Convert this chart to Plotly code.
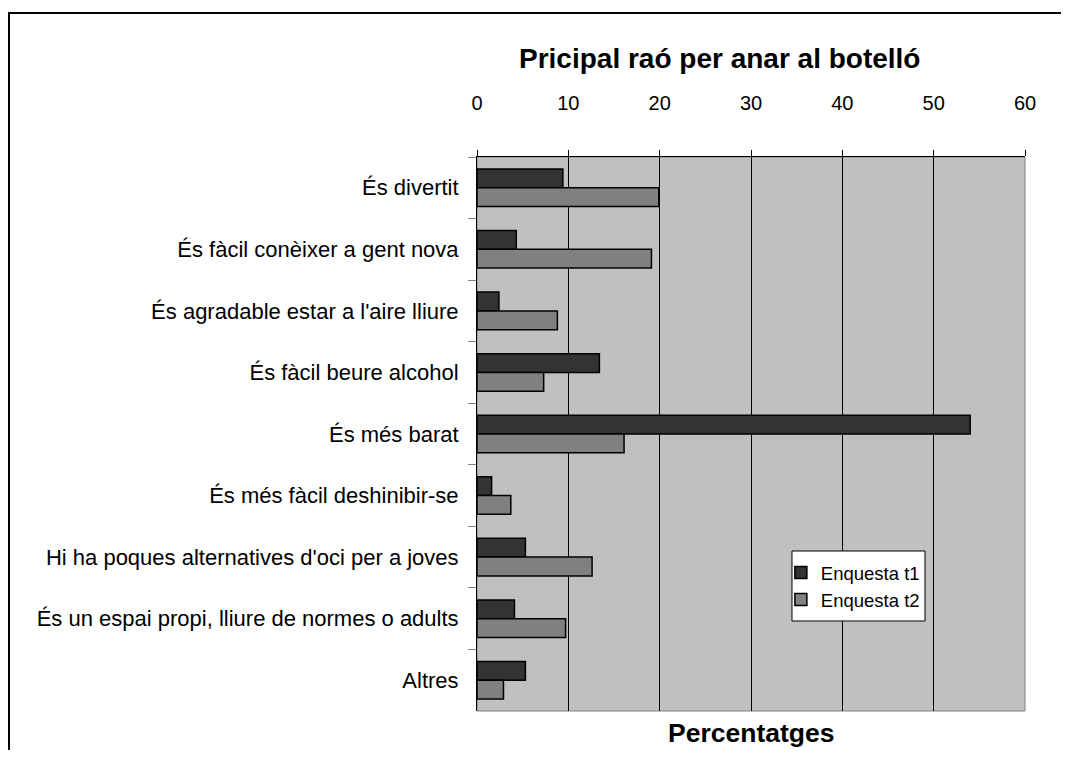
import plotly.graph_objects as go

# Data
categories = [
    "És divertit",
    "És fàcil conèixer a gent nova",
    "És agradable estar a l'aire lliure",
    "És fàcil beure alcohol",
    "És més barat",
    "És més fàcil deshinibir-se",
    "Hi ha poques alternatives d'oci per a joves",
    "És un espai propi, lliure de normes o adults",
    "Altres",
]
t1 = [9.4, 4.3, 2.4, 13.4, 54.0, 1.6, 5.3, 4.1, 5.3]
t2 = [19.9, 19.1, 8.8, 7.3, 16.1, 3.7, 12.6, 9.7, 2.9]
x_ticks = [0, 10, 20, 30, 40, 50, 60]

FONT = "Liberation Sans, Arial, sans-serif"

fig = go.Figure()
fig.add_trace(go.Bar(
    name="Enquesta t1", y=categories, x=t1, orientation="h", legendgroup="a",
    marker=dict(color="#333333", line=dict(color="black", width=1.5)),
))
fig.add_trace(go.Bar(
    name="Enquesta t2", y=categories, x=t2, orientation="h", legendgroup="b",
    marker=dict(color="#808080", line=dict(color="black", width=1.5)),
))

# page has an 8px body margin, so the figure is drawn 8px smaller / shifted
fig.update_layout(
    width=1061, height=742,
    margin=dict(l=469, r=44, t=149, b=39),
    paper_bgcolor="white",
    plot_bgcolor="#C0C0C0",
    barmode="group",
    bargap=0.39,
    bargroupgap=0,
    font=dict(family=FONT, color="black"),
    showlegend=True,
    legend=dict(
        x=0.5545, y=0.2834, xanchor="left", yanchor="top",
        bgcolor="rgba(0,0,0,0)", borderwidth=0,
        font=dict(size=18.5, family=FONT),
        itemwidth=30,
        tracegroupgap=5,
        traceorder="normal",
    ),
    xaxis=dict(
        side="top", range=[0, 60], tickvals=x_ticks,
        showgrid=True, gridcolor="black", gridwidth=1,
        showline=True, linecolor="black", linewidth=1,
        ticks="outside", ticklen=6, tickcolor="black",
        tickfont=dict(size=20, family=FONT),
        ticklabelstandoff=32,
        zeroline=False, fixedrange=True,
    ),
    yaxis=dict(
        autorange="reversed",
        showline=True, linecolor="black", linewidth=1,
        ticks="outside", ticklen=8, tickcolor="#808080",
        tickson="boundaries",
        tickfont=dict(size=22, family=FONT),
        ticklabelstandoff=13,
        showgrid=False, fixedrange=True,
    ),
    shapes=[
        # gray plot border (right and bottom)
        dict(type="rect", xref="paper", yref="paper", x0=0, x1=1, y0=0, y1=1,
             line=dict(color="#808080", width=1), layer="below"),
        # legend box
        dict(type="rect", xref="paper", yref="paper",
             x0=0.5748, x1=0.8175, y0=0.1625, y1=0.2888,
             fillcolor="white", line=dict(color="black", width=1), layer="above"),
        # chart frame
        dict(type="rect", xref="paper", yref="paper",
             x0=-0.854, x1=1.0795, y0=-0.12, y1=1.2599,
             line=dict(color="black", width=2)),
    ],
    annotations=[
        dict(text="<b>Pricipal raó per anar al botelló</b>", xref="paper", yref="paper",
             x=0.4425, y=1.1787, xanchor="center", yanchor="middle",
             showarrow=False, font=dict(size=28, family=FONT)),
        dict(text="<b>Percentatges</b>", xref="paper", yref="paper",
             x=0.5, y=-0.0397, xanchor="center", yanchor="middle",
             showarrow=False, font=dict(size=26.5, family=FONT)),
    ],
)

fig.write_html("out.html", config=dict(displayModeBar=False))
